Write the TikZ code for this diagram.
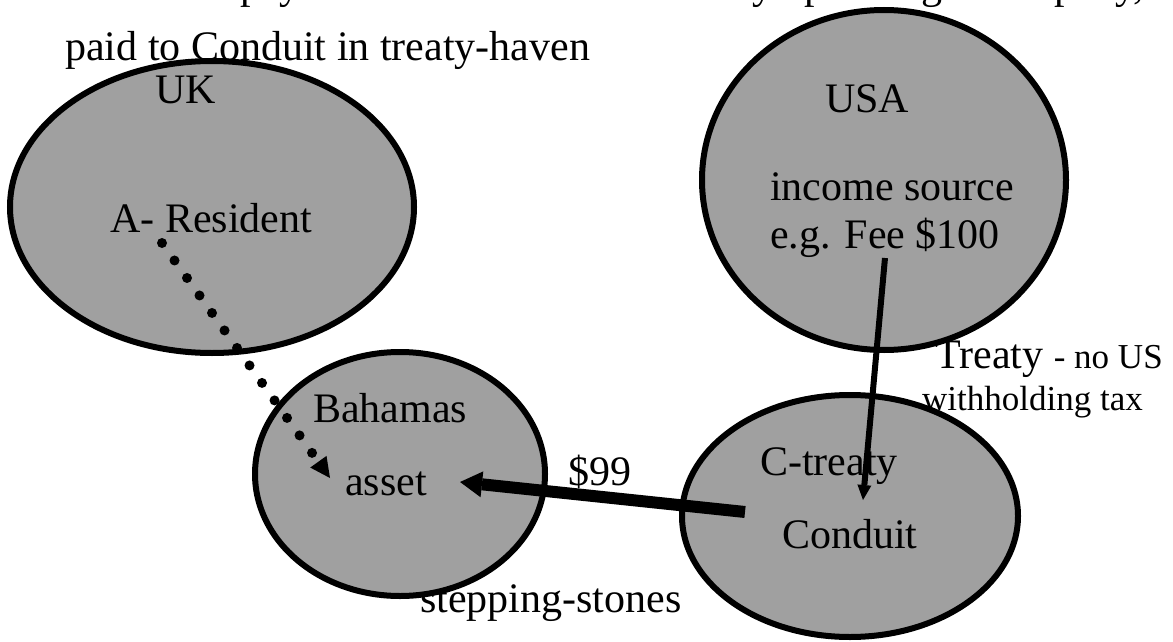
\documentclass[tikz,border=0pt]{standalone}
\usepackage{fontspec}
\setmainfont{Liberation Serif}
\usetikzlibrary{shapes.geometric,arrows.meta}
\definecolor{landgray}{RGB}{160,160,160}
\begin{document}
\begin{tikzpicture}[x=1pt, y=-1pt,
  country/.style = {ellipse, draw, line width=6pt, fill=landgray, inner sep=0pt},
  word/.style = {inner sep=0pt, anchor=base west, font=\fontsize{42pt}{48pt}\selectfont},
  smallword/.style = {word, font=\fontsize{35pt}{40pt}\selectfont},
  flow/.style = {line width=6pt, -{Triangle[length=15pt,width=14pt,line width=0pt]}},
  bigflow/.style = {line width=12pt, -{Triangle[length=22pt,width=26pt,line width=0pt]}},
  dotflow/.style = {line width=10pt, line cap=round, dash pattern=on 0pt off 21.5pt,
    -{Triangle[length=20pt,width=20pt,line width=0pt]}}]
  \useasboundingbox (0,0) rectangle (1173,642);
  \clip (0,0) rectangle (1173,642);
  \node[word] (topone) at (65,-1) {Interest is payable to US resident firms by operating a company,};
  \node[word] (toptwo) at (65,60) {paid to Conduit in treaty-haven};

  \node[country, minimum width=404pt, minimum height=292pt] (uk) at (212,207) {};
  \node[country, minimum width=364pt, minimum height=340pt] (usa) at (884,180) {};
  \node[country, minimum width=290pt, minimum height=244pt] (bah) at (400,474) {};
  \node[country, minimum width=336pt, minimum height=242pt] (ctr) at (850,516) {};

  \node[word] (uklbl) at (155,103) {UK};
  \node[word] (ukres) at (110,232) {A- Resident};
  \node[word] (usalbl) at (825,113) {USA};
  \node[word] (income) at (770,200) {income source};
  \node[word] (feeamt) at (770,248) {e.g. Fee \$100};
  \node[word] (bahlbl) at (313,422) {Bahamas};
  \node[word] (asset) at (345,495) {asset};
  \node[word] (ctlbl) at (760,475) {C-treaty};
  \node[word] (conduit) at (782,548) {Conduit};

  \draw[dotflow] ([xshift=52pt,yshift=-11pt]ukres.base west) -- ([xshift=-15pt,yshift=17pt]asset.base west);
  \draw[flow] ([xshift=115pt,yshift=-10pt]feeamt.base west) -- ([xshift=81pt,yshift=48pt]conduit.base west);
  \draw[bigflow] ([xshift=-37pt,yshift=36pt]conduit.base west) -- ([xshift=33pt,yshift=13pt]asset.base east);

  \node[word] (amount) at (568,485) {\$99};
  \node[word] (treaty) at (935,368) {Treaty {\fontsize{35pt}{40pt}\selectfont - no US}};
  \node[smallword] (nowht) at (922,410) {withholding tax};
  \node[word] (stones) at (420,612) {stepping-stones};
\end{tikzpicture}
\end{document}
